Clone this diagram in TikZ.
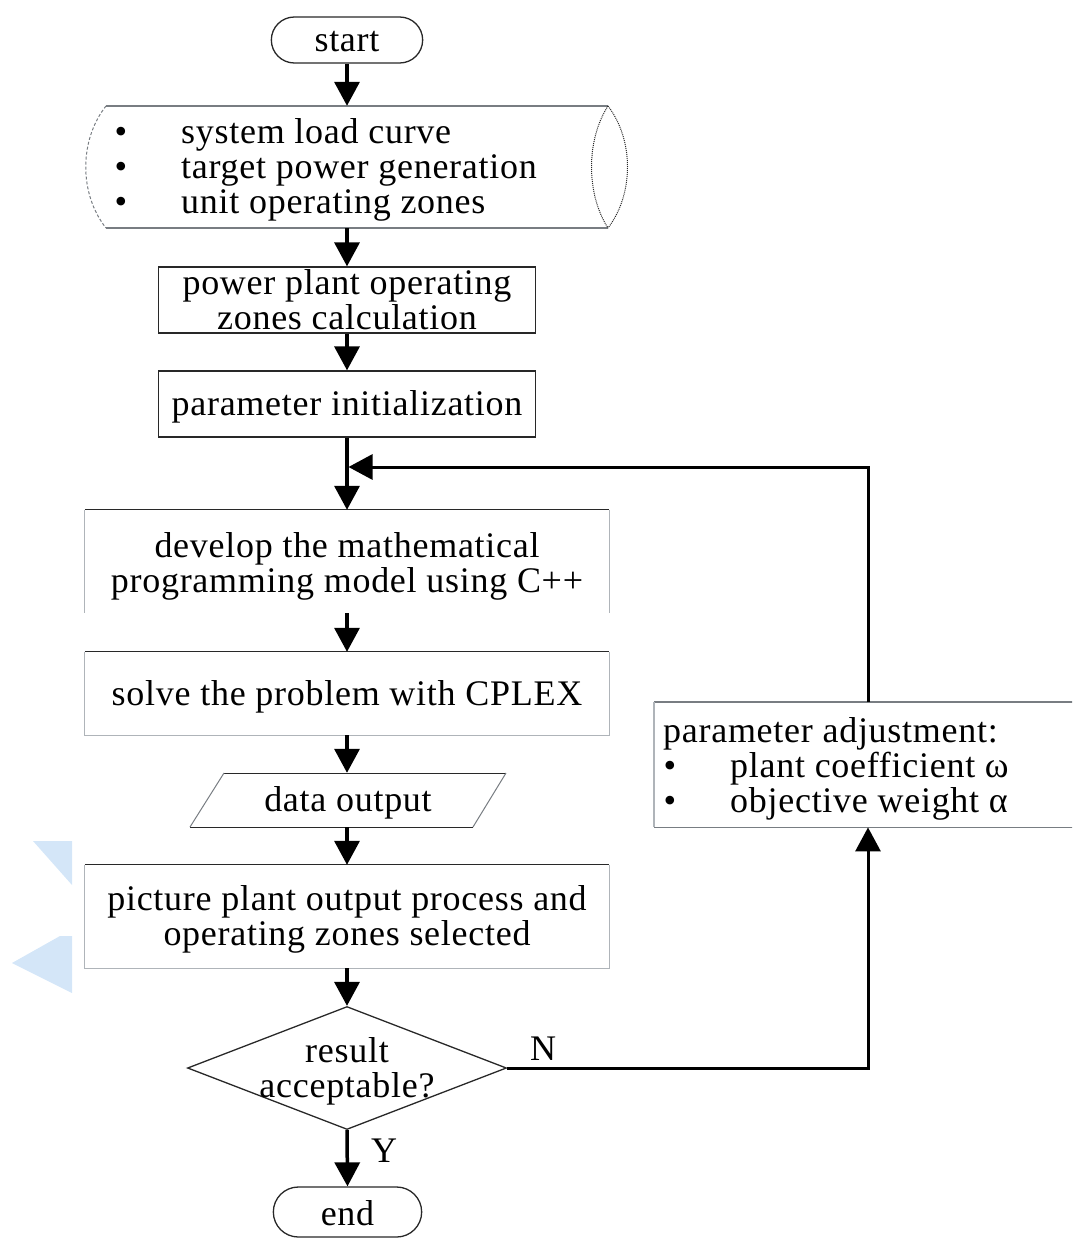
\documentclass[tikz,border=0pt]{standalone}
\usepackage{fontspec}
\setmainfont{Liberation Serif}[LetterSpace=2]
\usetikzlibrary{arrows.meta,shapes.geometric,shapes.misc}
\definecolor{wm}{RGB}{212,230,248}
\definecolor{darkb}{RGB}{40,40,40}
\definecolor{lightb}{RGB}{175,180,185}
\definecolor{midb}{RGB}{120,125,130}
\begin{document}
\begin{tikzpicture}[x=1pt,y=-1pt,
  txt/.style={font=\fontsize{36}{35}\selectfont, inner sep=0pt, align=center},
  bul/.style={font=\fontsize{36}{35}\selectfont, inner sep=0pt},
  plain/.style={inner sep=0pt},
  arr/.style={line width=3.5pt, -{Triangle[width=25pt,length=24pt]}},
  bord/.style={line width=1.3pt}]
\useasboundingbox (0,0) rectangle (1072,1238);
\clip (0,0) rectangle (1072,1238);

% watermark shapes
\fill[wm] (33,841) -- (72,841) -- (72,885) -- cycle;
\fill[wm] (12,963) -- (60,936) -- (72,936) -- (72,993) -- cycle;

% start
\node[rounded rectangle, draw=darkb, line width=1.3pt, minimum width=158pt, minimum height=46pt] (start) at (347,40) {};
\node[txt, yshift=-2pt] (startt) at (start.center) {start};

% cylinder (data store)
\node[plain, minimum width=540pt, minimum height=122pt] (cyl) at (356,167) {};
\draw[bord, draw=midb] (106,106) -- (608,106);
\draw[bord, draw=midb] (106,228) -- (608,228);
\draw[line width=1pt, draw=midb, densely dashed] (106,106) .. controls (79,140) and (79,194) .. (106,228);
\draw[line width=1pt, draw=darkb, densely dotted] (608,106) .. controls (586,140) and (586,194) .. (608,228);
\draw[line width=1pt, draw=darkb, densely dotted] (608,106) .. controls (634,140) and (634,194) .. (608,228);
\node[bul, anchor=base] (b1) at (121,144) {•};
\node[bul, anchor=base] (b2) at (121,179) {•};
\node[bul, anchor=base] (b3) at (121,214) {•};
\node[txt, anchor=base west] (c1) at (181,144) {system load curve};
\node[txt, anchor=base west] (c2) at (181,179) {target power generation};
\node[txt, anchor=base west] (c3) at (181,214) {unit operating zones};

% process boxes
\node[plain, draw=darkb, line width=1.3pt, minimum width=377pt, minimum height=66pt] (pp) at (347,300) {};
\node[txt] (ppt) at (pp.center) {power plant operating\\zones calculation};
\node[plain, draw=darkb, line width=1.3pt, minimum width=377pt, minimum height=66pt] (pi) at (347,404) {};
\node[txt, yshift=-3pt] (pit) at (pi.center) {parameter initialization};

\node[plain, minimum width=524pt, minimum height=103pt] (dev) at (347,561.5) {};
\node[txt, yshift=-5pt] (devt) at (dev.center) {develop the mathematical\\programming model using C++};
\draw[bord, draw=darkb] (dev.north west) -- (dev.north east);
\draw[bord, draw=lightb] (dev.north west) -- (dev.south west);
\draw[bord, draw=lightb] (dev.north east) -- (dev.south east);

\node[plain, minimum width=524pt, minimum height=83pt] (solve) at (347,693.5) {};
\node[txt, yshift=-3pt] (solvet) at (solve.center) {solve the problem with CPLEX};
\draw[bord, draw=darkb] (solve.north west) -- (solve.north east);
\draw[bord, draw=lightb] (solve.north west) -- (solve.south west) -- (solve.south east) -- (solve.north east);

\node[plain, minimum width=250pt, minimum height=54pt] (dat) at (348,800) {};
\node[txt, yshift=-3pt] (datt) at (dat.center) {data output};
\draw[line width=1pt, draw=darkb] (224,773) -- (506,773);
\draw[line width=1pt, draw=midb] (506,773) -- (473,827);
\draw[line width=1pt, draw=darkb] (473,827) -- (190,827);
\draw[line width=1pt, draw=midb] (190,827) -- (224,773);

\node[plain, minimum width=524pt, minimum height=103pt] (pic) at (347,916.5) {};
\node[txt, yshift=-3pt] (pict) at (pic.center) {picture plant output process and\\operating zones selected};
\draw[bord, draw=darkb] (pic.north west) -- (pic.north east);
\draw[bord, draw=lightb] (pic.north west) -- (pic.south west) -- (pic.south east) -- (pic.north east);

% decision
\node[diamond, draw=darkb, line width=1.3pt, minimum width=319pt, minimum height=123pt, inner sep=0pt] (dec) at (347,1068) {};
\node[txt, yshift=-3pt] (dect) at (dec.center) {result\\acceptable?};

% end
\node[rounded rectangle, draw=darkb, line width=1.3pt, minimum width=155pt, minimum height=50pt] (end) at (347.5,1212) {};
\node[txt, yshift=-1pt] (endt) at (end.center) {end};

% parameter adjustment
\node[plain, anchor=north west, minimum width=460pt, minimum height=125pt] (pa) at (654,702) {};
\draw[bord, draw=midb] (pa.north east) -- (pa.north west);
\draw[bord, draw=lightb] (pa.north west) -- (pa.south west);
\draw[bord, draw=midb] (pa.south west) -- (pa.south east);
\node[txt, anchor=base west] (pat) at (663,742) {parameter adjustment:};
\node[bul, anchor=base] (pb1) at (670,777) {•};
\node[bul, anchor=base] (pb2) at (670,812) {•};
\node[txt, anchor=base west] (pt1) at (730,777) {plant coefficient ω};
\node[txt, anchor=base west] (pt2) at (730,812) {objective weight α};

% connectors
\coordinate (loopx) at (868,467);
\draw[arr] (start.south) -- (start.south |- cyl.north);
\draw[arr] (start.south |- cyl.south) -- (pp.north);
\draw[arr] (pp.south) -- (pi.north);
\draw[arr] (pi.south) -- (dev.north);
\draw[arr] (dev.south) -- (solve.north);
\draw[arr] (solve.south) -- (solve.south |- dat.north);
\draw[arr] (solve.south |- dat.south) -- (pic.north);
\draw[arr] (pic.south) -- (dec.north);
\draw[arr] (dec.south) -- (end.north);
\draw[line width=3pt, -{Triangle[width=25pt,length=24pt]}] (dec.east) -| (loopx |- pa.south);
\draw[line width=3pt, -{Triangle[width=25pt,length=24pt]}, shorten >=1.5pt] (loopx |- pa.north) -- (loopx) -- (loopx -| pi.south);

% labels
\node[txt] (nlab) at (543,1049) {N};
\node[txt] (ylab) at (384,1151) {Y};
\end{tikzpicture}
\end{document}
